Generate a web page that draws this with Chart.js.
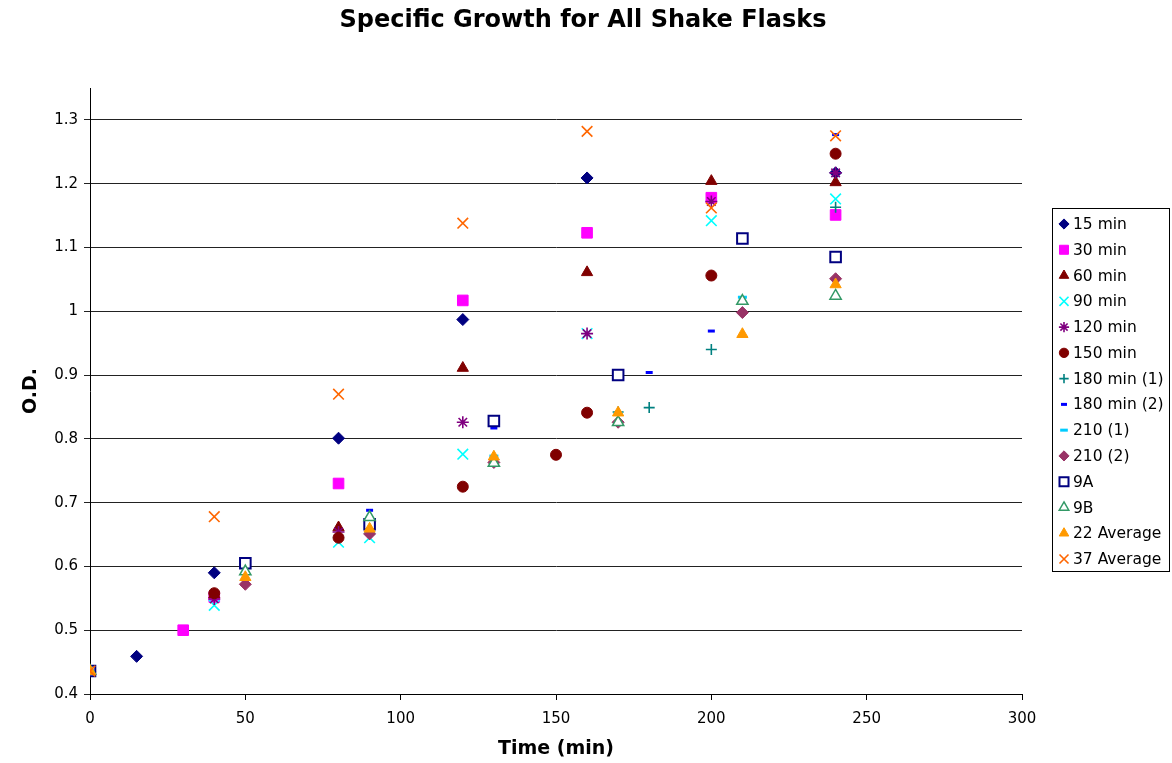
<!DOCTYPE html>
<html><head><meta charset="utf-8">
<script src="https://cdn.jsdelivr.net/npm/chart.js@4.4.1/dist/chart.umd.min.js"></script>
<style>html,body{margin:0;padding:0;background:#fff;}</style>
</head><body>
<canvas id="c" width="1172" height="763"></canvas>
<script>
// ---- data ----
const chartTitle = 'Specific Growth for All Shake Flasks';
const xTitle = 'Time (min)';
const yTitle = 'O.D.';
const seriesNames = ['15 min','30 min','60 min','90 min','120 min','150 min','180 min (1)','180 min (2)','210 (1)','210 (2)','9A','9B','22 Average','37 Average'];
const yTickValues = [0.4,0.5,0.6,0.7,0.8,0.9,1.0,1.1,1.2,1.3];
const xTickValues = [0,50,100,150,200,250,300];

const t15 = [0,15,40,80,120,160,240];
const v15 = [0.436,0.459,0.590,0.801,0.987,1.209,1.217];
const t30 = [0,30,40,80,120,160,200,240];
const v30 = [0.436,0.500,0.552,0.730,1.017,1.123,1.178,1.151];
const t60 = [0,40,80,120,160,200,240];
const v60 = [0.436,0.556,0.661,0.911,1.061,1.204,1.202];
const t90 = [0,40,80,90,120,160,200,240];
const v90 = [0.436,0.539,0.638,0.645,0.776,0.965,1.142,1.176];
const t120 = [0,40,80,120,160,200,240];
const v120 = [0.436,0.549,0.654,0.826,0.965,1.172,1.217];
const t150 = [0,40,80,120,150,160,200,240];
const v150 = [0.436,0.558,0.645,0.725,0.775,0.841,1.056,1.247];
const t180a = [0,170,180,200,240];
const v180a = [0.436,0.842,0.849,0.940,1.163];
const t180b = [0,90,130,180,200,240];
const v180b = [0.436,0.688,0.817,0.904,0.969,1.277];
const t210a = [0,50,130,170,210];
const v210a = [0.436,0.590,0.773,0.840,1.022];
const t210b = [0,50,90,130,170,210,240];
const v210b = [0.436,0.572,0.651,0.763,0.826,0.998,1.051];
const t9A = [0,50,90,130,170,210,240];
const v9A = [0.436,0.605,0.666,0.828,0.900,1.114,1.085];
const t9B = [0,50,90,130,170,210,240];
const v9B = [0.436,0.592,0.677,0.762,0.826,1.016,1.024];
const t22 = [0,50,90,130,170,210,240];
const v22 = [0.436,0.583,0.659,0.772,0.841,0.964,1.042];
const t37 = [0,40,80,120,160,200,240];
const v37 = [0.436,0.678,0.870,1.138,1.282,1.162,1.275];

const seriesT = [t15,t30,t60,t90,t120,t150,t180a,t180b,t210a,t210b,t9A,t9B,t22,t37];
const seriesV = [v15,v30,v60,v90,v120,v150,v180a,v180b,v210a,v210b,v9A,v9B,v22,v37];

// ---- styles ----
const styles = [
  {pointStyle:'rectRot', radius:6, bg:'#000080', bc:'#000080', bw:1},
  {pointStyle:'rect', radius:7.5, bg:'#FF00FF', bc:'#FF00FF', bw:1},
  {pointStyle:'triangle', radius:6.5, bg:'#800000', bc:'#800000', bw:1},
  {pointStyle:'crossRot', radius:7.5, bg:'#00FFFF', bc:'#00FFFF', bw:1.6},
  {pointStyle:'star', radius:6, bg:'#800080', bc:'#800080', bw:1.6},
  {pointStyle:'circle', radius:5.5, bg:'#800000', bc:'#800000', bw:1},
  {pointStyle:'cross', radius:5.5, bg:'#008080', bc:'#008080', bw:1.6},
  {pointStyle:'line', radius:3.5, bg:'#0000FF', bc:'#0000FF', bw:3},
  {pointStyle:'line', radius:4.5, bg:'#00CCFF', bc:'#00CCFF', bw:3},
  {pointStyle:'rectRot', radius:6, bg:'#993366', bc:'#993366', bw:1},
  {pointStyle:'rect', radius:7.5, bg:'#FFFFFF', bc:'#000080', bw:2},
  {pointStyle:'triangle', radius:6.5, bg:'#FFFFFF', bc:'#339966', bw:1.5},
  {pointStyle:'triangle', radius:6.5, bg:'#FF9900', bc:'#FF9900', bw:1},
  {pointStyle:'crossRot', radius:7.5, bg:'#FF6600', bc:'#FF6600', bw:1.6}
];

const N = seriesNames.length;
const datasets = seriesNames.map((name,i)=>({
  label: name,
  data: seriesT[i].map((t,j)=>({x:t, y:seriesV[i][j]})),
  pointStyle: styles[i].pointStyle,
  pointRadius: styles[i].radius,
  pointHoverRadius: styles[i].radius,
  backgroundColor: styles[i].bg,
  borderColor: styles[i].bc,
  pointBorderWidth: styles[i].bw,
  showLine: false,
  order: N - i
}));

const FONT = "'DejaVu Sans', sans-serif";

const customDraw = {
  id: 'customDraw',
  afterDraw(chart){
    const ctx = chart.ctx;
    ctx.save();
    // title
    ctx.fillStyle = '#000';
    ctx.font = "bold 24px " + FONT;
    ctx.textAlign = 'center';
    ctx.textBaseline = 'middle';
    ctx.fillText(chartTitle, 583, 21);
    // legend box
    ctx.strokeStyle = '#000';
    ctx.lineWidth = 1;
    ctx.strokeRect(1052.5, 208.5, 117, 363);
    ctx.font = "15.5px " + FONT;
    ctx.textAlign = 'left';
    for (let i=0;i<N;i++){
      const y = 224 + i*25.77;
      const s = styles[i];
      ctx.fillStyle = s.bg;
      ctx.strokeStyle = s.bc;
      ctx.lineWidth = s.bw;
      Chart.helpers.drawPoint(ctx, {pointStyle:s.pointStyle, radius:s.radius*0.85, borderWidth:s.bw, rotation:0}, 1064, y);
      ctx.fillStyle = '#000';
      ctx.fillText(seriesNames[i], 1073, y+1);
    }
    ctx.restore();
  }
};

new Chart(document.getElementById('c'), {
  type: 'scatter',
  data: { datasets },
  options: {
    responsive: false,
    animation: false,
    devicePixelRatio: 1,
    layout: { padding: { top: 88, right: 150, left: 0, bottom: 0 } },
    plugins: { legend: { display: false }, title: { display: false }, tooltip: { enabled: false } },
    scales: {
      x: {
        type: 'linear', min: 0, max: 300,
        afterBuildTicks: s => { s.ticks = xTickValues.map(v=>({value:v})); },
        afterFit: s => { s.height = 69; },
        ticks: { color:'#000', font:{family:FONT, size:15}, padding: 10, maxRotation:0 },
        grid: { drawOnChartArea: false, drawTicks: true, tickLength: 6, color:'#000' },
        border: { color:'#000', width:1 },
        title: { display:true, text:xTitle, color:'#000', font:{family:FONT, size:19, weight:'bold'}, padding:{top:0,bottom:3} }
      },
      y: {
        type: 'linear', min: 0.4, max: 1.35,
        afterBuildTicks: s => { s.ticks = yTickValues.map(v=>({value:v})); },
        afterFit: s => { s.width = 90; },
        ticks: { color:'#000', font:{family:FONT, size:15}, padding: 6,
          callback: v => String(Math.round(v*10)/10) },
        grid: { drawOnChartArea: true, drawTicks: true, tickLength: 6, color:'#222' },
        border: { color:'#000', width:1 },
        title: { display:true, text:yTitle, color:'#000', font:{family:FONT, size:19, weight:'bold'}, padding:{top:20,bottom:0} }
      }
    }
  },
  plugins: [customDraw]
});
</script>
</body></html>
